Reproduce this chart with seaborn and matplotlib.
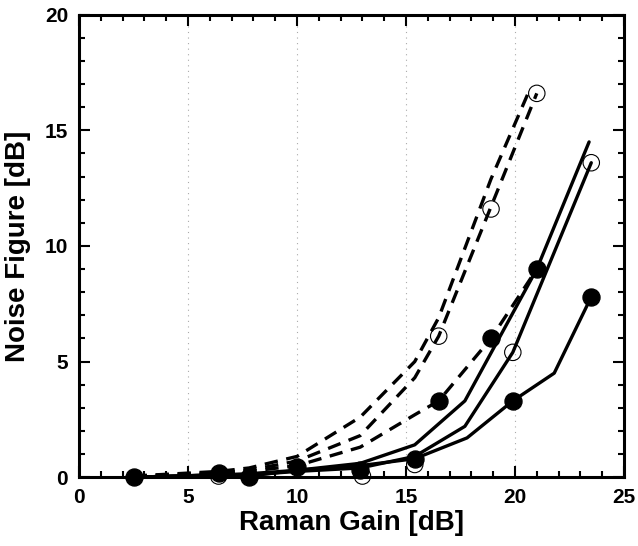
import numpy as np
import pandas as pd
import matplotlib
matplotlib.use("Agg")
import matplotlib.pyplot as plt
import seaborn as sns
from matplotlib.ticker import MultipleLocator

# ---- data ----
dashA_x = [2.5, 6.4, 7.8, 10.0, 12.9, 15.4, 16.5, 18.9, 20.6]
dashA_y = [0.05, 0.25, 0.4, 0.9, 2.6, 5.0, 6.9, 12.9, 16.6]
dashB_x = [2.5, 6.4, 7.8, 10.0, 12.9, 15.4, 16.5, 18.9, 21.0]
dashB_y = [0.05, 0.2, 0.3, 0.7, 1.8, 4.3, 6.1, 11.7, 16.6]
dashC_x = [2.5, 6.4, 7.8, 10.0, 12.9, 15.4, 16.5, 18.9, 21.0]
dashC_y = [0.0, 0.15, 0.25, 0.5, 1.3, 2.7, 3.3, 6.0, 9.0]

solA_x = [2.5, 6.4, 7.8, 10.0, 12.9, 15.4, 17.7, 21.0, 23.4]
solA_y = [0.0, 0.1, 0.15, 0.3, 0.6, 1.4, 3.3, 9.0, 14.5]
solB_x = [2.5, 6.4, 7.8, 10.0, 12.9, 15.4, 17.7, 19.9, 23.5]
solB_y = [0.0, 0.1, 0.1, 0.25, 0.4, 0.9, 2.2, 5.4, 13.6]
solC_x = [2.5, 6.4, 7.8, 10.0, 12.9, 15.4, 17.8, 19.9, 21.8, 23.5]
solC_y = [0.0, 0.1, 0.05, 0.3, 0.5, 0.8, 1.7, 3.3, 4.5, 7.8]

open_x = [6.4, 13.0, 15.4, 16.5, 18.9, 21.0, 19.9, 23.5]
open_y = [0.05, 0.05, 0.55, 6.1, 11.6, 16.6, 5.4, 13.6]
filled_x = [2.5, 6.4, 7.8, 10.0, 12.9, 15.4, 16.5, 18.9, 21.0, 19.9, 23.5]
filled_y = [0.0, 0.2, 0.0, 0.45, 0.3, 0.8, 3.3, 6.0, 9.0, 3.3, 7.8]

x_ticks = [0, 5, 10, 15, 20, 25]
y_ticks = [0, 5, 10, 15, 20]

sns.set_style("ticks")
plt.rcParams['font.family'] = ['Liberation Sans', 'DejaVu Sans']
plt.rcParams['font.weight'] = 'bold'
plt.rcParams['text.color'] = 'black'
plt.rcParams['axes.labelcolor'] = 'black'
plt.rcParams['xtick.color'] = 'black'
plt.rcParams['ytick.color'] = 'black'

fig = plt.figure(figsize=(6.38, 5.46), dpi=100)
ax = fig.add_axes([0.124, 0.126, 0.854, 0.847])

for xs in [5, 10, 15, 20]:
    ax.axvline(xs, color='#aaaaaa', lw=0.8, ls=(0, (1, 4)), zorder=0)

lw = 2.4
dash = (0, (4, 2.6))
for xs, ys in [(dashA_x, dashA_y), (dashB_x, dashB_y), (dashC_x, dashC_y)]:
    sns.lineplot(x=xs, y=ys, ax=ax, color='black', lw=lw, linestyle=dash,
                 sort=False, estimator=None)
for xs, ys in [(solA_x, solA_y), (solB_x, solB_y), (solC_x, solC_y)]:
    sns.lineplot(x=xs, y=ys, ax=ax, color='black', lw=lw, linestyle='-',
                 sort=False, estimator=None)

sns.scatterplot(x=open_x, y=open_y, ax=ax, s=140, facecolor='none',
                edgecolor='black', linewidth=0.8, clip_on=False, zorder=5)
sns.scatterplot(x=filled_x, y=filled_y, ax=ax, s=150, color='black',
                edgecolor='black', clip_on=False, zorder=6)

ax.set_xlim(0, 25)
ax.set_ylim(0, 20)
ax.set_xticks(x_ticks)
ax.set_yticks(y_ticks)
ax.xaxis.set_minor_locator(MultipleLocator(1))
ax.yaxis.set_minor_locator(MultipleLocator(1))
ax.tick_params(which='both', direction='in', top=True, right=True, width=1.5,
               labelsize=15, pad=8, colors='black')
ax.tick_params(which='major', length=8)
ax.tick_params(which='minor', length=4)
for lab in ax.get_xticklabels() + ax.get_yticklabels():
    lab.set_fontweight('bold')
for sp in ax.spines.values():
    sp.set_linewidth(2.2)
    sp.set_color('black')

ax.set_xlabel('Raman Gain [dB]', fontsize=20, fontweight='bold', labelpad=2,
              color='black')
ax.set_ylabel('Noise Figure [dB]', fontsize=20, fontweight='bold', labelpad=10,
              color='black')

fig.savefig('out.png', dpi=100)
